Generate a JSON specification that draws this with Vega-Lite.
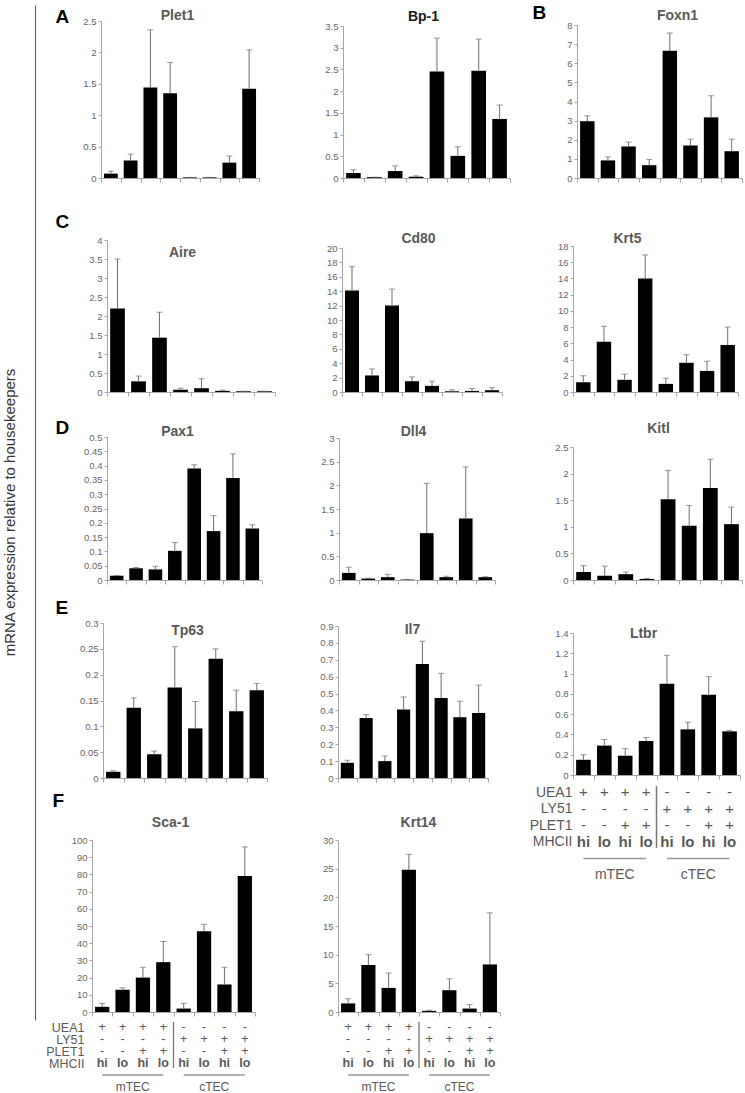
{
"$schema": "https://vega.github.io/schema/vega-lite/v6.json",
"width": 745, "height": 1093,
"autosize": {"type": "none"},
"padding": 0,
"config": {
  "view": {"stroke": null},
  "font": "Liberation Sans",
  "axis": {"grid": false, "domainColor": "#a6a6a6", "tickColor": "#a6a6a6", "labelFont": "Liberation Sans", "titleFont": "Liberation Sans"},
  "axisX": {"labels": false, "tickSize": 4, "titleBaseline": "middle", "titleAlign": "center", "titleFontSize": 14, "titleFontWeight": "bold", "titleColor": "#595959"},
  "axisY": {"labelFontSize": 9.5, "labelColor": "#666666", "tickSize": 3, "labelPadding": 2}
},
"datasets": {
  "bars": [
    {"gene":"Plet1","g":"1","value":0.07,"upper":0.11},{"gene":"Plet1","g":"2","value":0.28,"upper":0.38},{"gene":"Plet1","g":"3","value":1.44,"upper":2.36},{"gene":"Plet1","g":"4","value":1.35,"upper":1.84},{"gene":"Plet1","g":"5","value":0.01,"upper":0.01},{"gene":"Plet1","g":"6","value":0.01,"upper":0.01},{"gene":"Plet1","g":"7","value":0.245,"upper":0.35},{"gene":"Plet1","g":"8","value":1.42,"upper":2.04},
    {"gene":"Bp-1","g":"1","value":0.115,"upper":0.19},{"gene":"Bp-1","g":"2","value":0.02,"upper":0.02},{"gene":"Bp-1","g":"3","value":0.16,"upper":0.28},{"gene":"Bp-1","g":"4","value":0.03,"upper":0.05},{"gene":"Bp-1","g":"5","value":2.45,"upper":3.22},{"gene":"Bp-1","g":"6","value":0.51,"upper":0.72},{"gene":"Bp-1","g":"7","value":2.47,"upper":3.2},{"gene":"Bp-1","g":"8","value":1.36,"upper":1.68},
    {"gene":"Foxn1","g":"1","value":2.97,"upper":3.25},{"gene":"Foxn1","g":"2","value":0.92,"upper":1.1},{"gene":"Foxn1","g":"3","value":1.65,"upper":1.88},{"gene":"Foxn1","g":"4","value":0.67,"upper":0.97},{"gene":"Foxn1","g":"5","value":6.65,"upper":7.58},{"gene":"Foxn1","g":"6","value":1.7,"upper":2.03},{"gene":"Foxn1","g":"7","value":3.17,"upper":4.3},{"gene":"Foxn1","g":"8","value":1.4,"upper":2.03},
    {"gene":"Aire","g":"1","value":2.2,"upper":3.5},{"gene":"Aire","g":"2","value":0.28,"upper":0.42},{"gene":"Aire","g":"3","value":1.43,"upper":2.1},{"gene":"Aire","g":"4","value":0.06,"upper":0.1},{"gene":"Aire","g":"5","value":0.1,"upper":0.35},{"gene":"Aire","g":"6","value":0.03,"upper":0.05},{"gene":"Aire","g":"7","value":0.02,"upper":0.02},{"gene":"Aire","g":"8","value":0.02,"upper":0.02},
    {"gene":"Cd80","g":"1","value":14.1,"upper":17.4},{"gene":"Cd80","g":"2","value":2.3,"upper":3.2},{"gene":"Cd80","g":"3","value":12.0,"upper":14.3},{"gene":"Cd80","g":"4","value":1.5,"upper":2.1},{"gene":"Cd80","g":"5","value":0.85,"upper":1.5},{"gene":"Cd80","g":"6","value":0.1,"upper":0.3},{"gene":"Cd80","g":"7","value":0.15,"upper":0.5},{"gene":"Cd80","g":"8","value":0.25,"upper":0.6},
    {"gene":"Krt5","g":"1","value":1.2,"upper":2.0},{"gene":"Krt5","g":"2","value":6.2,"upper":8.1},{"gene":"Krt5","g":"3","value":1.5,"upper":2.2},{"gene":"Krt5","g":"4","value":14.0,"upper":16.9},{"gene":"Krt5","g":"5","value":1.0,"upper":1.7},{"gene":"Krt5","g":"6","value":3.6,"upper":4.6},{"gene":"Krt5","g":"7","value":2.6,"upper":3.8},{"gene":"Krt5","g":"8","value":5.8,"upper":8.0},
    {"gene":"Pax1","g":"1","value":0.015,"upper":0.016},{"gene":"Pax1","g":"2","value":0.041,"upper":0.044},{"gene":"Pax1","g":"3","value":0.037,"upper":0.048},{"gene":"Pax1","g":"4","value":0.102,"upper":0.131},{"gene":"Pax1","g":"5","value":0.39,"upper":0.403},{"gene":"Pax1","g":"6","value":0.171,"upper":0.225},{"gene":"Pax1","g":"7","value":0.357,"upper":0.441},{"gene":"Pax1","g":"8","value":0.18,"upper":0.193},
    {"gene":"Dll4","g":"1","value":0.15,"upper":0.27},{"gene":"Dll4","g":"2","value":0.03,"upper":0.04},{"gene":"Dll4","g":"3","value":0.06,"upper":0.12},{"gene":"Dll4","g":"4","value":0.01,"upper":0.01},{"gene":"Dll4","g":"5","value":0.99,"upper":2.04},{"gene":"Dll4","g":"6","value":0.06,"upper":0.08},{"gene":"Dll4","g":"7","value":1.3,"upper":2.39},{"gene":"Dll4","g":"8","value":0.06,"upper":0.07},
    {"gene":"Kitl","g":"1","value":0.15,"upper":0.27},{"gene":"Kitl","g":"2","value":0.08,"upper":0.26},{"gene":"Kitl","g":"3","value":0.11,"upper":0.15},{"gene":"Kitl","g":"4","value":0.02,"upper":0.03},{"gene":"Kitl","g":"5","value":1.52,"upper":2.06},{"gene":"Kitl","g":"6","value":1.02,"upper":1.4},{"gene":"Kitl","g":"7","value":1.73,"upper":2.27},{"gene":"Kitl","g":"8","value":1.05,"upper":1.37},
    {"gene":"Tp63","g":"1","value":0.012,"upper":0.014},{"gene":"Tp63","g":"2","value":0.136,"upper":0.155},{"gene":"Tp63","g":"3","value":0.046,"upper":0.052},{"gene":"Tp63","g":"4","value":0.175,"upper":0.254},{"gene":"Tp63","g":"5","value":0.096,"upper":0.148},{"gene":"Tp63","g":"6","value":0.231,"upper":0.25},{"gene":"Tp63","g":"7","value":0.129,"upper":0.17},{"gene":"Tp63","g":"8","value":0.17,"upper":0.183},
    {"gene":"Il7","g":"1","value":0.09,"upper":0.105},{"gene":"Il7","g":"2","value":0.355,"upper":0.375},{"gene":"Il7","g":"3","value":0.1,"upper":0.13},{"gene":"Il7","g":"4","value":0.405,"upper":0.48},{"gene":"Il7","g":"5","value":0.675,"upper":0.81},{"gene":"Il7","g":"6","value":0.473,"upper":0.62},{"gene":"Il7","g":"7","value":0.36,"upper":0.455},{"gene":"Il7","g":"8","value":0.385,"upper":0.55},
    {"gene":"Ltbr","g":"1","value":0.15,"upper":0.2},{"gene":"Ltbr","g":"2","value":0.29,"upper":0.35},{"gene":"Ltbr","g":"3","value":0.19,"upper":0.26},{"gene":"Ltbr","g":"4","value":0.335,"upper":0.37},{"gene":"Ltbr","g":"5","value":0.9,"upper":1.18},{"gene":"Ltbr","g":"6","value":0.45,"upper":0.52},{"gene":"Ltbr","g":"7","value":0.79,"upper":0.97},{"gene":"Ltbr","g":"8","value":0.43,"upper":0.44},
    {"gene":"Sca-1","g":"1","value":3,"upper":5},{"gene":"Sca-1","g":"2","value":13,"upper":14},{"gene":"Sca-1","g":"3","value":20,"upper":26},{"gene":"Sca-1","g":"4","value":29,"upper":41},{"gene":"Sca-1","g":"5","value":2,"upper":5},{"gene":"Sca-1","g":"6","value":47,"upper":51},{"gene":"Sca-1","g":"7","value":16,"upper":26},{"gene":"Sca-1","g":"8","value":79,"upper":96},
    {"gene":"Krt14","g":"1","value":1.5,"upper":2.3},{"gene":"Krt14","g":"2","value":8.2,"upper":10},{"gene":"Krt14","g":"3","value":4.2,"upper":6.8},{"gene":"Krt14","g":"4","value":24.8,"upper":27.5},{"gene":"Krt14","g":"5","value":0.2,"upper":0.3},{"gene":"Krt14","g":"6","value":3.8,"upper":5.8},{"gene":"Krt14","g":"7","value":0.6,"upper":1.3},{"gene":"Krt14","g":"8","value":8.3,"upper":17.3}
  ],
  "labels": [
    {"g":"1","UEA1":"+","LY51":"-","PLET1":"-","MHCII":"hi"},
    {"g":"2","UEA1":"+","LY51":"-","PLET1":"-","MHCII":"lo"},
    {"g":"3","UEA1":"+","LY51":"-","PLET1":"+","MHCII":"hi"},
    {"g":"4","UEA1":"+","LY51":"-","PLET1":"+","MHCII":"lo"},
    {"g":"5","UEA1":"-","LY51":"+","PLET1":"-","MHCII":"hi"},
    {"g":"6","UEA1":"-","LY51":"+","PLET1":"-","MHCII":"lo"},
    {"g":"7","UEA1":"-","LY51":"+","PLET1":"+","MHCII":"hi"},
    {"g":"8","UEA1":"-","LY51":"+","PLET1":"+","MHCII":"lo"}
  ],
  "groups": [
    {"grp":"mTEC","from":"1","to":"4","mid":"3"},
    {"grp":"cTEC","from":"5","to":"8","mid":"7"}
  ]
},
"resolve": {"scale": {"x": "independent", "y": "independent"}, "axis": {"x": "independent", "y": "independent"}},
"layer": [
  {"data": {"values": [{"v": 0}]}, "mark": {"type": "rule", "opacity": 0},
   "encoding": {"y": {"field": "v", "type": "quantitative", "scale": {"domain": [0, 1], "range": [1020, 5]},
     "axis": {"orient": "left", "offset": -35, "title": "mRNA expression relative to housekeepers", "labels": false, "ticks": false, "domainColor": "#555555", "titleX": -18, "titleY": 512, "titleAngle": 270, "titleAlign": "center", "titleBaseline": "bottom", "titleFontSize": 15, "titleFontWeight": "normal", "titleColor": "#333333"}}}},

  {"data": {"name": "bars"}, "transform": [{"filter": "datum.gene === 'Plet1'"}],
   "encoding": {"x": {"field": "g", "type": "ordinal", "scale": {"range": [101, 259], "paddingInner": 0, "paddingOuter": 0}, "axis": {"orient": "bottom", "offset": -915, "title": "Plet1", "titleX": 177, "titleY": -163, "tickBand": "extent"}},
     "y": {"field": "value", "type": "quantitative", "scale": {"domain": [0, 2.5], "nice": false, "range": [178, 21]}, "axis": {"orient": "left", "offset": -101, "values": [0, 0.5, 1, 1.5, 2, 2.5], "format": "~g", "title": "A", "titleAngle": 0, "titleAlign": "left", "titleBaseline": "alphabetic", "titleFontSize": 19, "titleFontWeight": "bold", "titleColor": "#000000", "titleX": -46, "titleY": 22}}},
   "layer": [
     {"mark": {"type": "bar", "color": "#000000", "width": {"band": 0.7}}},
     {"mark": {"type": "rule", "color": "#6e6e6e"}, "encoding": {"y2": {"field": "upper"}}},
     {"mark": {"type": "tick", "color": "#6e6e6e", "size": 6, "thickness": 1}, "encoding": {"y": {"field": "upper", "type": "quantitative", "axis": {"orient": "left", "offset": -101, "values": [0, 0.5, 1, 1.5, 2, 2.5], "format": "~g", "title": "A", "titleAngle": 0, "titleAlign": "left", "titleBaseline": "alphabetic", "titleFontSize": 19, "titleFontWeight": "bold", "titleColor": "#000000", "titleX": -46, "titleY": 22}}}}
   ]},
  {"data": {"name": "bars"}, "transform": [{"filter": "datum.gene === 'Bp-1'"}],
   "encoding": {"x": {"field": "g", "type": "ordinal", "scale": {"range": [343, 510], "paddingInner": 0, "paddingOuter": 0}, "axis": {"orient": "bottom", "offset": -915, "title": "Bp-1", "titleX": 423, "titleY": -162, "titleColor": "#1a1a1a", "tickBand": "extent"}},
     "y": {"field": "value", "type": "quantitative", "scale": {"domain": [0, 3.5], "nice": false, "range": [178, 26]}, "axis": {"orient": "left", "offset": -343, "values": [0, 0.5, 1, 1.5, 2, 2.5, 3, 3.5], "format": "~g", "title": null}}},
   "layer": [
     {"mark": {"type": "bar", "color": "#000000", "width": {"band": 0.7}}},
     {"mark": {"type": "rule", "color": "#6e6e6e"}, "encoding": {"y2": {"field": "upper"}}},
     {"mark": {"type": "tick", "color": "#6e6e6e", "size": 6, "thickness": 1}, "encoding": {"y": {"field": "upper", "type": "quantitative", "axis": {"orient": "left", "offset": -343, "values": [0, 0.5, 1, 1.5, 2, 2.5, 3, 3.5], "format": "~g", "title": null}}}}
   ]},
  {"data": {"name": "bars"}, "transform": [{"filter": "datum.gene === 'Foxn1'"}],
   "encoding": {"x": {"field": "g", "type": "ordinal", "scale": {"range": [577, 742], "paddingInner": 0, "paddingOuter": 0}, "axis": {"orient": "bottom", "offset": -915, "title": "Foxn1", "titleX": 677, "titleY": -163, "tickBand": "extent"}},
     "y": {"field": "value", "type": "quantitative", "scale": {"domain": [0, 8], "nice": false, "range": [178, 25]}, "axis": {"orient": "left", "offset": -577, "values": [0, 1, 2, 3, 4, 5, 6, 7, 8], "format": "d", "title": "B", "titleAngle": 0, "titleAlign": "left", "titleBaseline": "alphabetic", "titleFontSize": 19, "titleFontWeight": "bold", "titleColor": "#000000", "titleX": -45, "titleY": 18}}},
   "layer": [
     {"mark": {"type": "bar", "color": "#000000", "width": {"band": 0.7}}},
     {"mark": {"type": "rule", "color": "#6e6e6e"}, "encoding": {"y2": {"field": "upper"}}},
     {"mark": {"type": "tick", "color": "#6e6e6e", "size": 6, "thickness": 1}, "encoding": {"y": {"field": "upper", "type": "quantitative", "axis": {"orient": "left", "offset": -577, "values": [0, 1, 2, 3, 4, 5, 6, 7, 8], "format": "d", "title": "B", "titleAngle": 0, "titleAlign": "left", "titleBaseline": "alphabetic", "titleFontSize": 19, "titleFontWeight": "bold", "titleColor": "#000000", "titleX": -45, "titleY": 18}}}}
   ]},
  {"data": {"name": "bars"}, "transform": [{"filter": "datum.gene === 'Aire'"}],
   "encoding": {"x": {"field": "g", "type": "ordinal", "scale": {"range": [107, 275], "paddingInner": 0, "paddingOuter": 0}, "axis": {"orient": "bottom", "offset": -701, "title": "Aire", "titleX": 182, "titleY": -140, "tickBand": "extent"}},
     "y": {"field": "value", "type": "quantitative", "scale": {"domain": [0, 4], "nice": false, "range": [392, 240]}, "axis": {"orient": "left", "offset": -107, "values": [0, 0.5, 1, 1.5, 2, 2.5, 3, 3.5, 4], "format": "~g", "title": "C", "titleAngle": 0, "titleAlign": "left", "titleBaseline": "alphabetic", "titleFontSize": 19, "titleFontWeight": "bold", "titleColor": "#000000", "titleX": -52, "titleY": 227}}},
   "layer": [
     {"mark": {"type": "bar", "color": "#000000", "width": {"band": 0.7}}},
     {"mark": {"type": "rule", "color": "#6e6e6e"}, "encoding": {"y2": {"field": "upper"}}},
     {"mark": {"type": "tick", "color": "#6e6e6e", "size": 6, "thickness": 1}, "encoding": {"y": {"field": "upper", "type": "quantitative", "axis": {"orient": "left", "offset": -107, "values": [0, 0.5, 1, 1.5, 2, 2.5, 3, 3.5, 4], "format": "~g", "title": "C", "titleAngle": 0, "titleAlign": "left", "titleBaseline": "alphabetic", "titleFontSize": 19, "titleFontWeight": "bold", "titleColor": "#000000", "titleX": -52, "titleY": 227}}}}
   ]},
  {"data": {"name": "bars"}, "transform": [{"filter": "datum.gene === 'Cd80'"}],
   "encoding": {"x": {"field": "g", "type": "ordinal", "scale": {"range": [342, 502], "paddingInner": 0, "paddingOuter": 0}, "axis": {"orient": "bottom", "offset": -701, "title": "Cd80", "titleX": 418, "titleY": -154, "tickBand": "extent"}},
     "y": {"field": "value", "type": "quantitative", "scale": {"domain": [0, 20], "nice": false, "range": [392, 248]}, "axis": {"orient": "left", "offset": -342, "values": [0, 2, 4, 6, 8, 10, 12, 14, 16, 18, 20], "format": "d", "title": null}}},
   "layer": [
     {"mark": {"type": "bar", "color": "#000000", "width": {"band": 0.7}}},
     {"mark": {"type": "rule", "color": "#6e6e6e"}, "encoding": {"y2": {"field": "upper"}}},
     {"mark": {"type": "tick", "color": "#6e6e6e", "size": 6, "thickness": 1}, "encoding": {"y": {"field": "upper", "type": "quantitative", "axis": {"orient": "left", "offset": -342, "values": [0, 2, 4, 6, 8, 10, 12, 14, 16, 18, 20], "format": "d", "title": null}}}}
   ]},
  {"data": {"name": "bars"}, "transform": [{"filter": "datum.gene === 'Krt5'"}],
   "encoding": {"x": {"field": "g", "type": "ordinal", "scale": {"range": [573, 738], "paddingInner": 0, "paddingOuter": 0}, "axis": {"orient": "bottom", "offset": -701, "title": "Krt5", "titleX": 627, "titleY": -154, "tickBand": "extent"}},
     "y": {"field": "value", "type": "quantitative", "scale": {"domain": [0, 18], "nice": false, "range": [392, 246]}, "axis": {"orient": "left", "offset": -573, "values": [0, 2, 4, 6, 8, 10, 12, 14, 16, 18], "format": "d", "title": null}}},
   "layer": [
     {"mark": {"type": "bar", "color": "#000000", "width": {"band": 0.7}}},
     {"mark": {"type": "rule", "color": "#6e6e6e"}, "encoding": {"y2": {"field": "upper"}}},
     {"mark": {"type": "tick", "color": "#6e6e6e", "size": 6, "thickness": 1}, "encoding": {"y": {"field": "upper", "type": "quantitative", "axis": {"orient": "left", "offset": -573, "values": [0, 2, 4, 6, 8, 10, 12, 14, 16, 18], "format": "d", "title": null}}}}
   ]},
  {"data": {"name": "bars"}, "transform": [{"filter": "datum.gene === 'Pax1'"}],
   "encoding": {"x": {"field": "g", "type": "ordinal", "scale": {"range": [107, 262], "paddingInner": 0, "paddingOuter": 0}, "axis": {"orient": "bottom", "offset": -513, "title": "Pax1", "titleX": 177, "titleY": -149, "tickBand": "extent"}},
     "y": {"field": "value", "type": "quantitative", "scale": {"domain": [0, 0.5], "nice": false, "range": [580, 437]}, "axis": {"orient": "left", "offset": -107, "values": [0, 0.05, 0.1, 0.15, 0.2, 0.25, 0.3, 0.35, 0.4, 0.45, 0.5], "format": "~g", "title": "D", "titleAngle": 0, "titleAlign": "left", "titleBaseline": "alphabetic", "titleFontSize": 19, "titleFontWeight": "bold", "titleColor": "#000000", "titleX": -52, "titleY": 433}}},
   "layer": [
     {"mark": {"type": "bar", "color": "#000000", "width": {"band": 0.7}}},
     {"mark": {"type": "rule", "color": "#6e6e6e"}, "encoding": {"y2": {"field": "upper"}}},
     {"mark": {"type": "tick", "color": "#6e6e6e", "size": 6, "thickness": 1}, "encoding": {"y": {"field": "upper", "type": "quantitative", "axis": {"orient": "left", "offset": -107, "values": [0, 0.05, 0.1, 0.15, 0.2, 0.25, 0.3, 0.35, 0.4, 0.45, 0.5], "format": "~g", "title": "D", "titleAngle": 0, "titleAlign": "left", "titleBaseline": "alphabetic", "titleFontSize": 19, "titleFontWeight": "bold", "titleColor": "#000000", "titleX": -52, "titleY": 433}}}}
   ]},
  {"data": {"name": "bars"}, "transform": [{"filter": "datum.gene === 'Dll4'"}],
   "encoding": {"x": {"field": "g", "type": "ordinal", "scale": {"range": [339, 495], "paddingInner": 0, "paddingOuter": 0}, "axis": {"orient": "bottom", "offset": -513, "title": "Dll4", "titleX": 413, "titleY": -149, "tickBand": "extent"}},
     "y": {"field": "value", "type": "quantitative", "scale": {"domain": [0, 3], "nice": false, "range": [580, 438]}, "axis": {"orient": "left", "offset": -339, "values": [0, 0.5, 1, 1.5, 2, 2.5, 3], "format": "~g", "title": null}}},
   "layer": [
     {"mark": {"type": "bar", "color": "#000000", "width": {"band": 0.7}}},
     {"mark": {"type": "rule", "color": "#6e6e6e"}, "encoding": {"y2": {"field": "upper"}}},
     {"mark": {"type": "tick", "color": "#6e6e6e", "size": 6, "thickness": 1}, "encoding": {"y": {"field": "upper", "type": "quantitative", "axis": {"orient": "left", "offset": -339, "values": [0, 0.5, 1, 1.5, 2, 2.5, 3], "format": "~g", "title": null}}}}
   ]},
  {"data": {"name": "bars"}, "transform": [{"filter": "datum.gene === 'Kitl'"}],
   "encoding": {"x": {"field": "g", "type": "ordinal", "scale": {"range": [573, 742], "paddingInner": 0, "paddingOuter": 0}, "axis": {"orient": "bottom", "offset": -513, "title": "Kitl", "titleX": 658, "titleY": -152, "tickBand": "extent"}},
     "y": {"field": "value", "type": "quantitative", "scale": {"domain": [0, 2.5], "nice": false, "range": [580, 447]}, "axis": {"orient": "left", "offset": -573, "values": [0, 0.5, 1, 1.5, 2, 2.5], "format": "~g", "title": null}}},
   "layer": [
     {"mark": {"type": "bar", "color": "#000000", "width": {"band": 0.7}}},
     {"mark": {"type": "rule", "color": "#6e6e6e"}, "encoding": {"y2": {"field": "upper"}}},
     {"mark": {"type": "tick", "color": "#6e6e6e", "size": 6, "thickness": 1}, "encoding": {"y": {"field": "upper", "type": "quantitative", "axis": {"orient": "left", "offset": -573, "values": [0, 0.5, 1, 1.5, 2, 2.5], "format": "~g", "title": null}}}}
   ]},
  {"data": {"name": "bars"}, "transform": [{"filter": "datum.gene === 'Tp63'"}],
   "encoding": {"x": {"field": "g", "type": "ordinal", "scale": {"range": [103, 267], "paddingInner": 0, "paddingOuter": 0}, "axis": {"orient": "bottom", "offset": -315, "title": "Tp63", "titleX": 187, "titleY": -148, "tickBand": "extent"}},
     "y": {"field": "value", "type": "quantitative", "scale": {"domain": [0, 0.3], "nice": false, "range": [778, 623]}, "axis": {"orient": "left", "offset": -103, "values": [0, 0.05, 0.1, 0.15, 0.2, 0.25, 0.3], "format": "~g", "title": "E", "titleAngle": 0, "titleAlign": "left", "titleBaseline": "alphabetic", "titleFontSize": 19, "titleFontWeight": "bold", "titleColor": "#000000", "titleX": -48, "titleY": 613}}},
   "layer": [
     {"mark": {"type": "bar", "color": "#000000", "width": {"band": 0.7}}},
     {"mark": {"type": "rule", "color": "#6e6e6e"}, "encoding": {"y2": {"field": "upper"}}},
     {"mark": {"type": "tick", "color": "#6e6e6e", "size": 6, "thickness": 1}, "encoding": {"y": {"field": "upper", "type": "quantitative", "axis": {"orient": "left", "offset": -103, "values": [0, 0.05, 0.1, 0.15, 0.2, 0.25, 0.3], "format": "~g", "title": "E", "titleAngle": 0, "titleAlign": "left", "titleBaseline": "alphabetic", "titleFontSize": 19, "titleFontWeight": "bold", "titleColor": "#000000", "titleX": -48, "titleY": 613}}}}
   ]},
  {"data": {"name": "bars"}, "transform": [{"filter": "datum.gene === 'Il7'"}],
   "encoding": {"x": {"field": "g", "type": "ordinal", "scale": {"range": [338, 488], "paddingInner": 0, "paddingOuter": 0}, "axis": {"orient": "bottom", "offset": -315, "title": "Il7", "titleX": 412, "titleY": -149, "tickBand": "extent"}},
     "y": {"field": "value", "type": "quantitative", "scale": {"domain": [0, 0.9], "nice": false, "range": [778, 626]}, "axis": {"orient": "left", "offset": -338, "values": [0, 0.1, 0.2, 0.3, 0.4, 0.5, 0.6, 0.7, 0.8, 0.9], "format": "~g", "title": null}}},
   "layer": [
     {"mark": {"type": "bar", "color": "#000000", "width": {"band": 0.7}}},
     {"mark": {"type": "rule", "color": "#6e6e6e"}, "encoding": {"y2": {"field": "upper"}}},
     {"mark": {"type": "tick", "color": "#6e6e6e", "size": 6, "thickness": 1}, "encoding": {"y": {"field": "upper", "type": "quantitative", "axis": {"orient": "left", "offset": -338, "values": [0, 0.1, 0.2, 0.3, 0.4, 0.5, 0.6, 0.7, 0.8, 0.9], "format": "~g", "title": null}}}}
   ]},
  {"data": {"name": "bars"}, "transform": [{"filter": "datum.gene === 'Ltbr'"}],
   "encoding": {"x": {"field": "g", "type": "ordinal", "scale": {"range": [573, 740], "paddingInner": 0, "paddingOuter": 0}, "axis": {"orient": "bottom", "offset": -318, "title": "Ltbr", "titleX": 643, "titleY": -142, "tickBand": "extent"}},
     "y": {"field": "value", "type": "quantitative", "scale": {"domain": [0, 1.4], "nice": false, "range": [775, 633]}, "axis": {"orient": "left", "offset": -573, "values": [0, 0.2, 0.4, 0.6, 0.8, 1, 1.2, 1.4], "format": "~g", "title": null}}},
   "layer": [
     {"mark": {"type": "bar", "color": "#000000", "width": {"band": 0.7}}},
     {"mark": {"type": "rule", "color": "#6e6e6e"}, "encoding": {"y2": {"field": "upper"}}},
     {"mark": {"type": "tick", "color": "#6e6e6e", "size": 6, "thickness": 1}, "encoding": {"y": {"field": "upper", "type": "quantitative", "axis": {"orient": "left", "offset": -573, "values": [0, 0.2, 0.4, 0.6, 0.8, 1, 1.2, 1.4], "format": "~g", "title": null}}}}
   ]},
  {"data": {"name": "bars"}, "transform": [{"filter": "datum.gene === 'Sca-1'"}],
   "encoding": {"x": {"field": "g", "type": "ordinal", "scale": {"range": [92, 255], "paddingInner": 0, "paddingOuter": 0}, "axis": {"orient": "bottom", "offset": -81, "title": "Sca-1", "titleX": 170, "titleY": -190, "tickBand": "extent"}},
     "y": {"field": "value", "type": "quantitative", "scale": {"domain": [0, 100], "nice": false, "range": [1012, 840]}, "axis": {"orient": "left", "offset": -92, "values": [0, 10, 20, 30, 40, 50, 60, 70, 80, 90, 100], "format": "d", "title": "F", "titleAngle": 0, "titleAlign": "left", "titleBaseline": "alphabetic", "titleFontSize": 19, "titleFontWeight": "bold", "titleColor": "#000000", "titleX": -40, "titleY": 806}}},
   "layer": [
     {"mark": {"type": "bar", "color": "#000000", "width": {"band": 0.7}}},
     {"mark": {"type": "rule", "color": "#6e6e6e"}, "encoding": {"y2": {"field": "upper"}}},
     {"mark": {"type": "tick", "color": "#6e6e6e", "size": 6, "thickness": 1}, "encoding": {"y": {"field": "upper", "type": "quantitative", "axis": {"orient": "left", "offset": -92, "values": [0, 10, 20, 30, 40, 50, 60, 70, 80, 90, 100], "format": "d", "title": "F", "titleAngle": 0, "titleAlign": "left", "titleBaseline": "alphabetic", "titleFontSize": 19, "titleFontWeight": "bold", "titleColor": "#000000", "titleX": -40, "titleY": 806}}}}
   ]},
  {"data": {"name": "bars"}, "transform": [{"filter": "datum.gene === 'Krt14'"}],
   "encoding": {"x": {"field": "g", "type": "ordinal", "scale": {"range": [338, 500], "paddingInner": 0, "paddingOuter": 0}, "axis": {"orient": "bottom", "offset": -81, "title": "Krt14", "titleX": 418, "titleY": -190, "tickBand": "extent"}},
     "y": {"field": "value", "type": "quantitative", "scale": {"domain": [0, 30], "nice": false, "range": [1012, 840]}, "axis": {"orient": "left", "offset": -338, "values": [0, 5, 10, 15, 20, 25, 30], "format": "d", "title": null}}},
   "layer": [
     {"mark": {"type": "bar", "color": "#000000", "width": {"band": 0.7}}},
     {"mark": {"type": "rule", "color": "#6e6e6e"}, "encoding": {"y2": {"field": "upper"}}},
     {"mark": {"type": "tick", "color": "#6e6e6e", "size": 6, "thickness": 1}, "encoding": {"y": {"field": "upper", "type": "quantitative", "axis": {"orient": "left", "offset": -338, "values": [0, 5, 10, 15, 20, 25, 30], "format": "d", "title": null}}}}
   ]},

  {"layer": [
     {"data": {"name": "labels"}, "transform": [{"fold": ["UEA1", "LY51", "PLET1"], "as": ["row", "t"]}],
      "mark": {"type": "text", "fontSize": 15, "color": "#595959", "baseline": "middle"},
      "encoding": {"x": {"field": "g", "type": "ordinal", "scale": {"range": [573, 740], "paddingInner": 0, "paddingOuter": 0}, "axis": null},
        "y": {"field": "row", "type": "ordinal", "scale": {"type": "point", "padding": 0, "range": [792, 875], "domain": ["UEA1", "LY51", "PLET1", "MHCII", "line", "grp"]},
          "axis": {"orient": "left", "offset": -573, "title": null, "domain": false, "ticks": false, "tickSize": 0, "labelFontSize": 14, "labelColor": "#595959", "labelPadding": 1, "labelExpr": "indexof(['UEA1','LY51','PLET1','MHCII'], datum.value) >= 0 ? datum.value : ''"}},
        "text": {"field": "t"}}},
     {"data": {"name": "labels"}, "mark": {"type": "text", "fontSize": 15, "fontWeight": "bold", "color": "#595959", "baseline": "middle"},
      "encoding": {"x": {"field": "g", "type": "ordinal", "axis": null}, "y": {"datum": "MHCII", "type": "ordinal", "title": null}, "text": {"field": "MHCII"}}},
     {"data": {"name": "groups"}, "mark": {"type": "rule", "color": "#999999", "strokeWidth": 1.5},
      "encoding": {"x": {"field": "from", "type": "ordinal", "axis": null}, "x2": {"field": "to"}, "y": {"datum": "line", "type": "ordinal", "title": null}}},
     {"data": {"name": "groups"}, "mark": {"type": "text", "fontSize": 14, "color": "#595959", "baseline": "middle"},
      "encoding": {"x": {"field": "mid", "type": "ordinal", "bandPosition": 0, "axis": null}, "y": {"datum": "grp", "type": "ordinal", "title": null}, "text": {"field": "grp"}}},
     {"data": {"name": "groups"}, "transform": [{"filter": "datum.grp === 'cTEC'"}], "mark": {"type": "rule", "color": "#777777", "strokeWidth": 1.5, "yOffset": -6, "y2Offset": 6},
      "encoding": {"x": {"field": "from", "type": "ordinal", "bandPosition": 0, "axis": null}, "y": {"datum": "UEA1", "type": "ordinal", "title": null}, "y2": {"datum": "MHCII"}}}
  ]},
  {"layer": [
     {"data": {"name": "labels"}, "transform": [{"fold": ["UEA1", "LY51", "PLET1"], "as": ["row", "t"]}],
      "mark": {"type": "text", "fontSize": 12.5, "color": "#595959", "baseline": "middle"},
      "encoding": {"x": {"field": "g", "type": "ordinal", "scale": {"range": [92, 255], "paddingInner": 0, "paddingOuter": 0}, "axis": null},
        "y": {"field": "row", "type": "ordinal", "scale": {"type": "point", "padding": 0, "range": [1027, 1087], "domain": ["UEA1", "LY51", "PLET1", "MHCII", "line", "grp"]},
          "axis": {"orient": "left", "offset": -92, "title": null, "domain": false, "ticks": false, "tickSize": 0, "labelFontSize": 12.5, "labelColor": "#595959", "labelPadding": 8, "labelExpr": "indexof(['UEA1','LY51','PLET1','MHCII'], datum.value) >= 0 ? datum.value : ''"}},
        "text": {"field": "t"}}},
     {"data": {"name": "labels"}, "mark": {"type": "text", "fontSize": 12.5, "fontWeight": "bold", "color": "#595959", "baseline": "middle"},
      "encoding": {"x": {"field": "g", "type": "ordinal", "axis": null}, "y": {"datum": "MHCII", "type": "ordinal", "title": null}, "text": {"field": "MHCII"}}},
     {"data": {"name": "groups"}, "mark": {"type": "rule", "color": "#999999", "strokeWidth": 1.3},
      "encoding": {"x": {"field": "from", "type": "ordinal", "axis": null}, "x2": {"field": "to"}, "y": {"datum": "line", "type": "ordinal", "title": null}}},
     {"data": {"name": "groups"}, "mark": {"type": "text", "fontSize": 12, "color": "#595959", "baseline": "middle"},
      "encoding": {"x": {"field": "mid", "type": "ordinal", "bandPosition": 0, "axis": null}, "y": {"datum": "grp", "type": "ordinal", "title": null}, "text": {"field": "grp"}}},
     {"data": {"name": "groups"}, "transform": [{"filter": "datum.grp === 'cTEC'"}], "mark": {"type": "rule", "color": "#777777", "strokeWidth": 1.3, "yOffset": -5, "y2Offset": 5},
      "encoding": {"x": {"field": "from", "type": "ordinal", "bandPosition": 0, "axis": null}, "y": {"datum": "UEA1", "type": "ordinal", "title": null}, "y2": {"datum": "MHCII"}}}
  ]},
  {"layer": [
     {"data": {"name": "labels"}, "transform": [{"fold": ["UEA1", "LY51", "PLET1"], "as": ["row", "t"]}],
      "mark": {"type": "text", "fontSize": 12.5, "color": "#595959", "baseline": "middle"},
      "encoding": {"x": {"field": "g", "type": "ordinal", "scale": {"range": [338, 500], "paddingInner": 0, "paddingOuter": 0}, "axis": null},
        "y": {"field": "row", "type": "ordinal", "scale": {"type": "point", "padding": 0, "range": [1027, 1087], "domain": ["UEA1", "LY51", "PLET1", "MHCII", "line", "grp"]}, "axis": null},
        "text": {"field": "t"}}},
     {"data": {"name": "labels"}, "mark": {"type": "text", "fontSize": 12.5, "fontWeight": "bold", "color": "#595959", "baseline": "middle"},
      "encoding": {"x": {"field": "g", "type": "ordinal", "axis": null}, "y": {"datum": "MHCII", "type": "ordinal", "axis": null}, "text": {"field": "MHCII"}}},
     {"data": {"name": "groups"}, "mark": {"type": "rule", "color": "#999999", "strokeWidth": 1.3},
      "encoding": {"x": {"field": "from", "type": "ordinal", "axis": null}, "x2": {"field": "to"}, "y": {"datum": "line", "type": "ordinal", "axis": null}}},
     {"data": {"name": "groups"}, "mark": {"type": "text", "fontSize": 12, "color": "#595959", "baseline": "middle"},
      "encoding": {"x": {"field": "mid", "type": "ordinal", "bandPosition": 0, "axis": null}, "y": {"datum": "grp", "type": "ordinal", "axis": null}, "text": {"field": "grp"}}},
     {"data": {"name": "groups"}, "transform": [{"filter": "datum.grp === 'cTEC'"}], "mark": {"type": "rule", "color": "#777777", "strokeWidth": 1.3, "yOffset": -5, "y2Offset": 5},
      "encoding": {"x": {"field": "from", "type": "ordinal", "bandPosition": 0, "axis": null}, "y": {"datum": "UEA1", "type": "ordinal", "axis": null}, "y2": {"datum": "MHCII"}}}
  ]}
]
}
